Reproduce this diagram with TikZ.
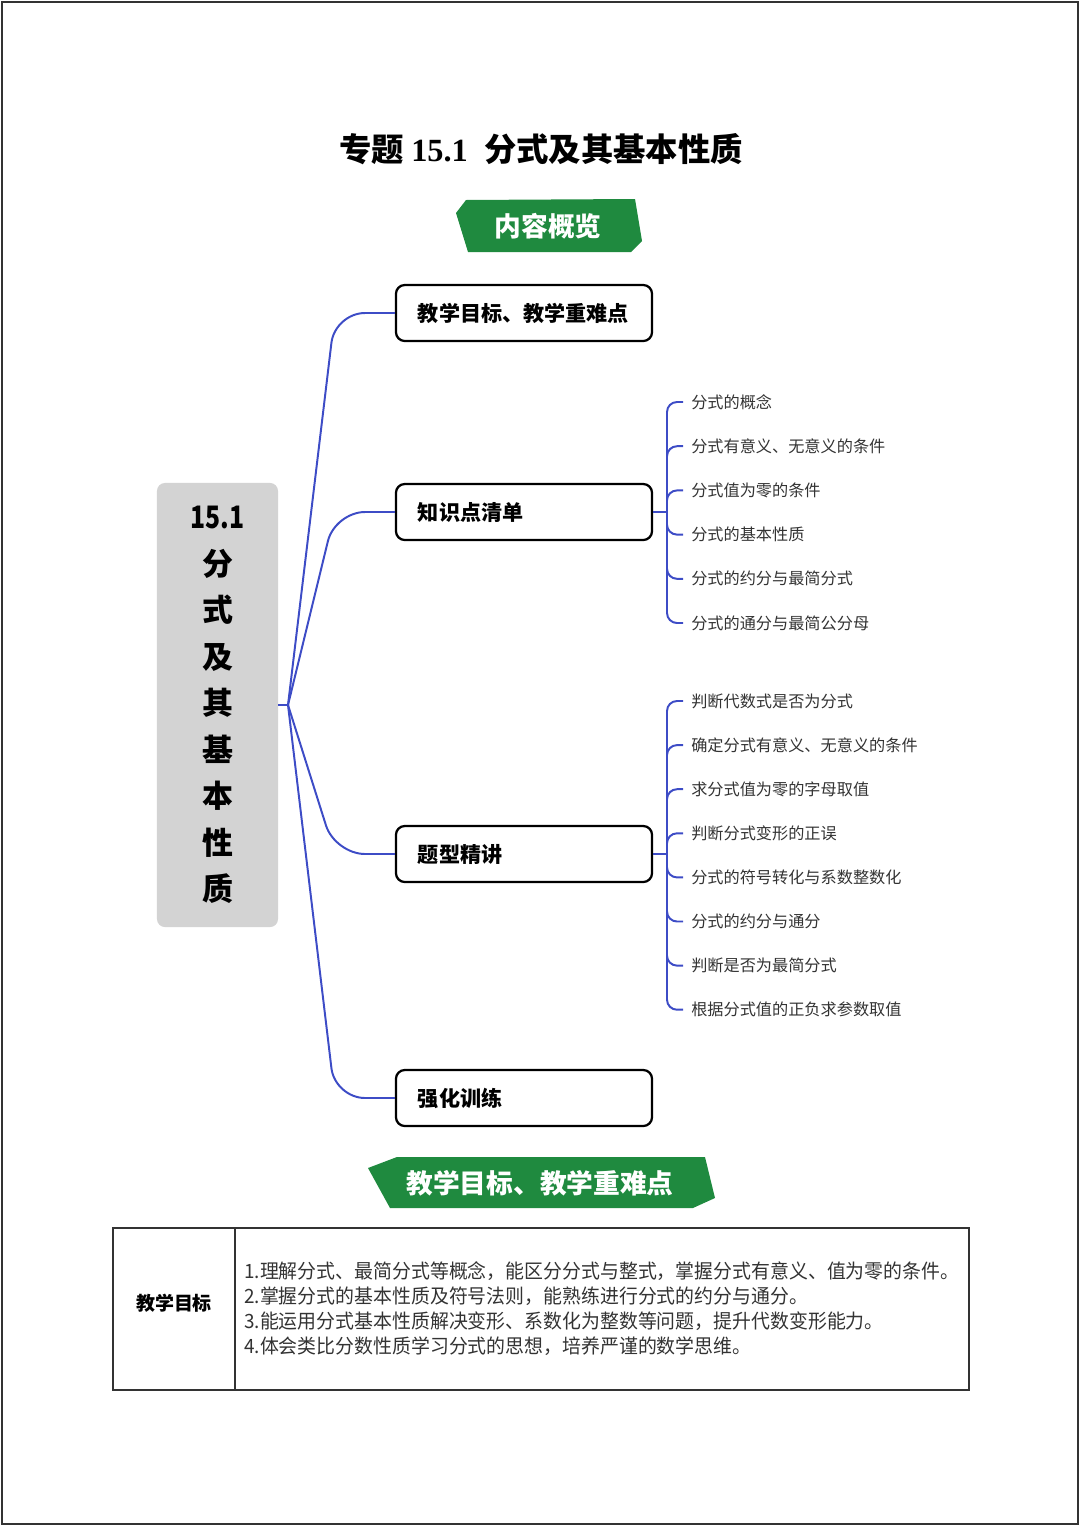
\documentclass[tikz,border=0pt]{standalone}
\usepackage{fontspec}
\newfontfamily\cjk{Noto Sans CJK SC}
\newfontfamily\cjknarrow[FakeStretch=0.96]{Noto Sans CJK SC}
\newfontfamily\rootnum[FakeStretch=0.8]{Noto Sans CJK SC}
\newfontfamily\titlenum{Liberation Serif}
\usetikzlibrary{positioning}
\definecolor{bannergreen}{HTML}{1F8A3F}
\definecolor{linkblue}{HTML}{3D4CC6}
\definecolor{rootgray}{HTML}{D3D3D3}
\definecolor{leafgray}{HTML}{333333}
\definecolor{framegray}{HTML}{333333}

\tikzset{
  root/.style={fill=rootgray, rounded corners=0.2cm, minimum width=3.025cm, minimum height=11.1cm, align=center, font=\cjk\bfseries\fontsize{22}{33.1}\selectfont},
  branch/.style={draw=black, line width=1.6pt, rounded corners=0.22cm, minimum height=1.4cm, text width=5.3cm, inner xsep=0.55cm, align=left, font=\cjk\bfseries\fontsize{15}{18}\selectfont},
  leaf/.style={anchor=west, inner xsep=0.2cm, inner ysep=0pt, text=leafgray, font=\cjk\fontsize{11.5}{14}\selectfont},
  link/.style={draw=linkblue, line width=1.4pt},
  banner/.style={text=white, font=\cjk\bfseries\fontsize{19}{22}\selectfont},
}

\begin{document}
\begin{tikzpicture}[x=0.025cm, y=-0.025cm]
\useasboundingbox (0,0) rectangle (1080,1526);
\draw[framegray, line width=1.8pt] (2,2) rectangle (1078,1524);

% title and first banner
\node (title) at (541,149) {\cjk\bfseries\fontsize{23}{26}\selectfont 专题 {\titlenum 15.1}\enspace 分式及其基本性质};
\fill[bannergreen] (466,200) -- (635,199) -- (642,241) -- (631,252) -- (468,252) -- (456,213) -- cycle;
\node[banner] (ban1) at (548,226) {内容概览};

% mind map
\node[root] (root) at (217.5,705) {{\rootnum 15.1}\\分\\式\\及\\其\\基\\本\\性\\质};
\node[branch] (goal) at (524,313) {教学目标、教学重难点};
\node[branch] (know) at (524,512) {知识点清单};
\node[branch] (type) at (524,854) {题型精讲};
\node[branch] (drill) at (524,1098) {强化训练};

\coordinate (rj) at (288,705);
\coordinate (cx) at (335,705);
\draw[link] (root.east) -- (rj);
\foreach \b in {goal,know,type,drill}
  \draw[link, rounded corners=0.75cm] (rj) -- (cx |- \b) -- (\b.west);

% knowledge leaves
\coordinate (kj) at (667,512);
\draw[link] (know.east) -- (kj);
\foreach \t [count=\i] in {分式的概念,分式有意义、无意义的条件,分式值为零的条件,分式的基本性质,分式的约分与最简分式,分式的通分与最简公分母}{
  \node[leaf] (k\i) at (683,{402+44.2*(\i-1)}) {\t};
  \draw[link, rounded corners=0.25cm] (kj) -- (kj |- k\i) -- (k\i.west);
}

% question-type leaves
\coordinate (tj) at (667,854);
\draw[link] (type.east) -- (tj);
\foreach \t [count=\i] in {判断代数式是否为分式,确定分式有意义、无意义的条件,求分式值为零的字母取值,判断分式变形的正误,分式的符号转化与系数整数化,分式的约分与通分,判断是否为最简分式,根据分式值的正负求参数取值}{
  \node[leaf] (t\i) at (683,{701+44.1*(\i-1)}) {\t};
  \draw[link, rounded corners=0.25cm] (tj) -- (tj |- t\i) -- (t\i.west);
}

% second banner
\fill[bannergreen] (397,1157) -- (705,1157) -- (715,1198) -- (693,1208) -- (390,1208) -- (368,1168) -- cycle;
\node[banner] (ban2) at (540,1183) {教学目标、教学重难点};

% goals table
\draw[framegray, line width=0.9pt] (113,1228) rectangle (969,1390);
\draw[framegray, line width=0.9pt] (235,1228) -- (235,1390);
\node[font=\cjk\bfseries\fontsize{13.5}{16}\selectfont] (cell) at (174,1303) {教学目标};
\node[anchor=west, inner sep=0pt, align=left, text=leafgray, font=\cjknarrow\fontsize{14}{17.8}\selectfont] (aims) at (244,1308.5)
  {1.理解分式、最简分式等概念，能区分分式与整式，掌握分式有意义、值为零的条件。\\
   2.掌握分式的基本性质及符号法则，能熟练进行分式的约分与通分。\\
   3.能运用分式基本性质解决变形、系数化为整数等问题，提升代数变形能力。\\
   4.体会类比分数性质学习分式的思想，培养严谨的数学思维。};
\end{tikzpicture}
\end{document}
